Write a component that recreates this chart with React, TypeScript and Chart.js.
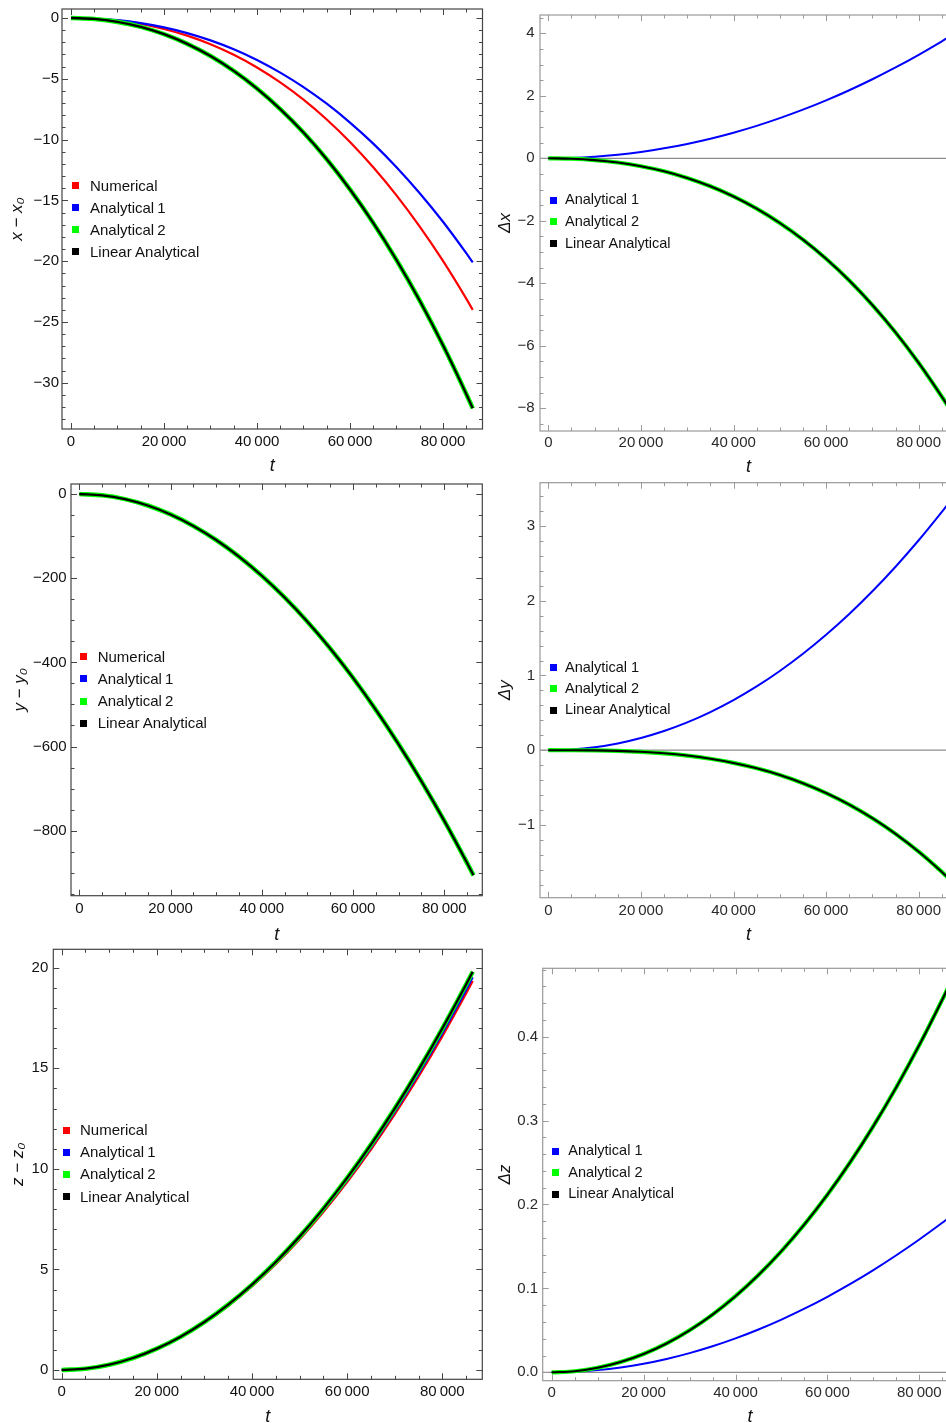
import React, { useEffect, useRef } from 'react';
import { Chart, registerables } from 'chart.js';

Chart.register(...registerables);

// ---------------- data ----------------
const T = [0, 5000, 10000, 15000, 20000, 25000, 30000, 35000, 40000, 45000, 50000, 55000, 60000, 65000, 70000, 75000, 80000, 85000, 86400];

// x - x0
const X_NUMERICAL = [0, -0.05, -0.21, -0.49, -0.9, -1.45, -2.16, -3.03, -4.07, -5.3, -6.72, -8.35, -10.2, -12.28, -14.59, -17.16, -19.98, -23.08, -24.0];
const X_ANALYTICAL1 = [0, -0.04, -0.18, -0.42, -0.77, -1.24, -1.84, -2.57, -3.45, -4.49, -5.68, -7.05, -8.6, -10.33, -12.27, -14.41, -16.76, -19.34, -20.1];
const X_ANALYTICAL2 = [0, -0.08, -0.32, -0.73, -1.33, -2.13, -3.13, -4.35, -5.8, -7.49, -9.42, -11.62, -14.1, -16.85, -19.9, -23.25, -26.92, -30.92, -32.1];
const X_LINEAR = [0, -0.08, -0.32, -0.73, -1.33, -2.13, -3.13, -4.35, -5.8, -7.49, -9.42, -11.62, -14.1, -16.85, -19.9, -23.25, -26.92, -30.92, -32.1];

// Δx
const DX_ANALYTICAL1 = [0, 0.013, 0.051, 0.115, 0.204, 0.319, 0.46, 0.627, 0.82, 1.039, 1.285, 1.556, 1.854, 2.179, 2.53, 2.908, 3.313, 3.744, 3.87];
const DX_ANALYTICAL2 = [0, -0.013, -0.057, -0.135, -0.253, -0.416, -0.628, -0.894, -1.22, -1.61, -2.07, -2.603, -3.215, -3.91, -4.695, -5.573, -6.549, -7.629, -7.95];
const DX_LINEAR = [0, -0.013, -0.057, -0.135, -0.253, -0.416, -0.628, -0.894, -1.22, -1.61, -2.07, -2.603, -3.215, -3.91, -4.695, -5.573, -6.549, -7.629, -7.95];

// y - y0
const Y_NUMERICAL = [0, -3.03, -12.14, -27.3, -48.53, -75.81, -109.16, -148.56, -194.02, -245.53, -303.09, -366.69, -436.35, -512.04, -593.79, -681.58, -775.39, -875.27, -904.29];
const Y_ANALYTICAL1 = [0, -3.02, -12.1, -27.21, -48.37, -75.55, -108.79, -148.05, -193.35, -244.68, -302.03, -365.4, -434.81, -510.22, -591.66, -679.13, -772.58, -872.08, -900.99];
const Y_ANALYTICAL2 = [0, -3.03, -12.14, -27.31, -48.55, -75.85, -109.23, -148.67, -194.19, -245.77, -303.42, -367.13, -436.92, -512.77, -594.7, -682.7, -776.75, -876.9, -906];
const Y_LINEAR = [0, -3.03, -12.14, -27.31, -48.55, -75.85, -109.23, -148.67, -194.19, -245.77, -303.42, -367.13, -436.92, -512.77, -594.7, -682.7, -776.75, -876.9, -906];

// Δy
const DY_ANALYTICAL1 = [0, 0.01, 0.04, 0.091, 0.164, 0.257, 0.372, 0.51, 0.67, 0.853, 1.06, 1.29, 1.544, 1.822, 2.126, 2.455, 2.809, 3.189, 3.3];
const DY_ANALYTICAL2 = [0, -0.0003, -0.0027, -0.0089, -0.0212, -0.0414, -0.0716, -0.1137, -0.1697, -0.2416, -0.3314, -0.4411, -0.5727, -0.7281, -0.9094, -1.1185, -1.3575, -1.6282, -1.71];
const DY_LINEAR = [0, -0.0003, -0.0027, -0.0089, -0.0212, -0.0414, -0.0716, -0.1137, -0.1697, -0.2416, -0.3314, -0.4411, -0.5727, -0.7281, -0.9094, -1.1185, -1.3575, -1.6282, -1.71];

// z - z0
const Z_NUMERICAL = [0, 0.065, 0.26, 0.585, 1.039, 1.624, 2.337, 3.18, 4.153, 5.255, 6.487, 7.847, 9.337, 10.955, 12.704, 14.58, 16.585, 18.72, 19.34];
const Z_ANALYTICAL1 = [0, 0.066, 0.263, 0.591, 1.049, 1.64, 2.36, 3.211, 4.193, 5.306, 6.55, 7.923, 9.427, 11.061, 12.826, 14.72, 16.743, 18.898, 19.524];
const Z_ANALYTICAL2 = [0, 0.066, 0.265, 0.597, 1.061, 1.658, 2.387, 3.249, 4.244, 5.371, 6.631, 8.023, 9.549, 11.206, 12.997, 14.92, 16.975, 19.164, 19.8];
const Z_LINEAR = [0, 0.066, 0.265, 0.597, 1.061, 1.658, 2.387, 3.249, 4.244, 5.371, 6.631, 8.023, 9.549, 11.206, 12.997, 14.92, 16.975, 19.164, 19.8];

// Δz
const DZ_ANALYTICAL1 = [0, 0.0006, 0.0026, 0.0058, 0.0102, 0.0159, 0.0229, 0.031, 0.0404, 0.051, 0.0628, 0.0758, 0.09, 0.1053, 0.1218, 0.1395, 0.1583, 0.1782, 0.184];
const DZ_ANALYTICAL2 = [0, 0.0013, 0.0054, 0.0122, 0.0218, 0.0344, 0.0501, 0.0688, 0.0907, 0.1159, 0.1444, 0.1763, 0.2117, 0.2507, 0.2934, 0.3398, 0.39, 0.4441, 0.46];
const DZ_LINEAR = [0, 0.0013, 0.0054, 0.0122, 0.0218, 0.0344, 0.0501, 0.0688, 0.0907, 0.1159, 0.1444, 0.1763, 0.2117, 0.2507, 0.2934, 0.3398, 0.39, 0.4441, 0.46];

// ticks
const X_TICKS = [0, 20000, 40000, 60000, 80000];
const X_TICK_LABELS = ['0', '20\u2009000', '40\u2009000', '60\u2009000', '80\u2009000'];
const X_MINOR = 5000;

const PX_TICKS = [0, -5, -10, -15, -20, -25, -30];
const PX_TICK_LABELS = ['0', '\u22125', '\u221210', '\u221215', '\u221220', '\u221225', '\u221230'];
const DX_TICKS = [4, 2, 0, -2, -4, -6, -8];
const DX_TICK_LABELS = ['4', '2', '0', '\u22122', '\u22124', '\u22126', '\u22128'];
const PY_TICKS = [0, -200, -400, -600, -800];
const PY_TICK_LABELS = ['0', '\u2212200', '\u2212400', '\u2212600', '\u2212800'];
const DY_TICKS = [3, 2, 1, 0, -1];
const DY_TICK_LABELS = ['3', '2', '1', '0', '\u22121'];
const PZ_TICKS = [20, 15, 10, 5, 0];
const PZ_TICK_LABELS = ['20', '15', '10', '5', '0'];
const DZ_TICKS = [0.4, 0.3, 0.2, 0.1, 0];
const DZ_TICK_LABELS = ['0.4', '0.3', '0.2', '0.1', '0.0'];

const LABEL_NUM_L = 'Numerical';
const LABEL_A1_L = 'Analytical\u20091';
const LABEL_A2_L = 'Analytical\u20092';
const LABEL_A1_R = 'Analytical 1';
const LABEL_A2_R = 'Analytical 2';
const LABEL_LIN = 'Linear Analytical';

// ---------------- styles ----------------
const FONT = "'Liberation Sans', Arial, Helvetica, sans-serif";
const RED = '#ff0000';
const BLUE = '#0000ff';
const GREEN = '#00ff00';
const BLACK = '#000000';

type Series = { label: string; color: string; values: number[]; width: number; order: number };
type Spec = {
  key: string;
  left: number; top: number; width: number; height: number;
  frame: { l: number; t: number; r: number; b: number };
  xRange: [number, number]; yRange: [number, number];
  yTicks: number[]; yLabels: string[]; yMinor: number;
  yTitle: string;
  series: Series[];
  legend: { markerX: number; textX: number; y0: number; dy: number; size: number };
  frameColor: string; textColor: string;
  xLabelPad: number; xTitlePad: number; yLabelPad: number; yTitlePad: number;
  zeroLine: boolean;
};

const leftSeries = (num: number[], a1: number[], a2: number[], lin: number[]): Series[] => [
  { label: LABEL_NUM_L, color: RED, values: num, width: 2.2, order: 4 },
  { label: LABEL_A1_L, color: BLUE, values: a1, width: 2.2, order: 3 },
  { label: LABEL_A2_L, color: GREEN, values: a2, width: 4.6, order: 2 },
  { label: LABEL_LIN, color: BLACK, values: lin, width: 2.3, order: 1 },
];
const rightSeries = (a1: number[], a2: number[], lin: number[]): Series[] => [
  { label: LABEL_A1_R, color: BLUE, values: a1, width: 2, order: 3 },
  { label: LABEL_A2_R, color: GREEN, values: a2, width: 4.2, order: 2 },
  { label: LABEL_LIN, color: BLACK, values: lin, width: 2.1, order: 1 },
];

const LEFT_FRAME = '#444444';
const RIGHT_FRAME = '#9a9a9a';

const SPECS: Spec[] = [
  {
    key: 'px', left: 0, top: 0, width: 490, height: 480,
    frame: { l: 62, t: 9, r: 482.5, b: 429 },
    xRange: [-1935, 88495], yRange: [-33.8, 0.74],
    yTicks: PX_TICKS, yLabels: PX_TICK_LABELS, yMinor: 1,
    yTitle: 'x \u2212 x\u2080',
    series: leftSeries(X_NUMERICAL, X_ANALYTICAL1, X_ANALYTICAL2, X_LINEAR),
    legend: { markerX: 72, textX: 90, y0: 185.7, dy: 22, size: 15 },
    frameColor: LEFT_FRAME, textColor: '#111',
    xLabelPad: 4, xTitlePad: 3.2, yLabelPad: 3, yTitlePad: 6.8, zeroLine: false,
  },
  {
    key: 'dx', left: 480, top: 0, width: 490, height: 480,
    frame: { l: 540, t: 15, r: 957, b: 431 },
    xRange: [-1793, 88272], yRange: [-8.726, 4.586],
    yTicks: DX_TICKS, yLabels: DX_TICK_LABELS, yMinor: 0.5,
    yTitle: '\u0394x',
    series: rightSeries(DX_ANALYTICAL1, DX_ANALYTICAL2, DX_LINEAR),
    legend: { markerX: 550, textX: 565, y0: 200, dy: 21.7, size: 14.5 },
    frameColor: RIGHT_FRAME, textColor: '#2a2a2a',
    xLabelPad: 2.7, xTitlePad: 2.5, yLabelPad: 5.5, yTitlePad: 14.8, zeroLine: true,
  },
  {
    key: 'py', left: 0, top: 480, width: 490, height: 470,
    frame: { l: 71, t: 484, r: 482.3, b: 895.7 },
    xRange: [-1819, 88329], yRange: [-954.4, 23.8],
    yTicks: PY_TICKS, yLabels: PY_TICK_LABELS, yMinor: 50,
    yTitle: 'y \u2212 y\u2080',
    series: leftSeries(Y_NUMERICAL, Y_ANALYTICAL1, Y_ANALYTICAL2, Y_LINEAR),
    legend: { markerX: 80, textX: 97.7, y0: 656.7, dy: 22.2, size: 15 },
    frameColor: LEFT_FRAME, textColor: '#111',
    xLabelPad: 4.6, xTitlePad: 4.2, yLabelPad: 4.3, yTitlePad: 9.8, zeroLine: false,
  },
  {
    key: 'dy', left: 480, top: 480, width: 490, height: 470,
    frame: { l: 540, t: 482.7, r: 957, b: 897.7 },
    xRange: [-1793, 88272], yRange: [-1.973, 3.579],
    yTicks: DY_TICKS, yLabels: DY_TICK_LABELS, yMinor: 0.2,
    yTitle: '\u0394y',
    series: rightSeries(DY_ANALYTICAL1, DY_ANALYTICAL2, DY_LINEAR),
    legend: { markerX: 550, textX: 565, y0: 667.7, dy: 21.2, size: 14.5 },
    frameColor: RIGHT_FRAME, textColor: '#2a2a2a',
    xLabelPad: 4.3, xTitlePad: 4.2, yLabelPad: 5, yTitlePad: 14.8, zeroLine: true,
  },
  {
    key: 'pz', left: 0, top: 940, width: 490, height: 500,
    frame: { l: 53.3, t: 949.3, r: 482.3, b: 1379.3 },
    xRange: [-1766, 88408], yRange: [-0.462, 20.915],
    yTicks: PZ_TICKS, yLabels: PZ_TICK_LABELS, yMinor: 1,
    yTitle: 'z \u2212 z\u2080',
    series: leftSeries(Z_NUMERICAL, Z_ANALYTICAL1, Z_ANALYTICAL2, Z_LINEAR),
    legend: { markerX: 62.7, textX: 80, y0: 1130, dy: 22.2, size: 15 },
    frameColor: LEFT_FRAME, textColor: '#111',
    xLabelPad: 3.4, xTitlePad: 12.5, yLabelPad: 5, yTitlePad: 7.8, zeroLine: false,
  },
  {
    key: 'dz', left: 480, top: 940, width: 490, height: 500,
    frame: { l: 542.7, t: 968.3, r: 957.4, b: 1380.7 },
    xRange: [-1959, 88292], yRange: [-0.01, 0.4815],
    yTicks: DZ_TICKS, yLabels: DZ_TICK_LABELS, yMinor: 0.02,
    yTitle: '\u0394z',
    series: rightSeries(DZ_ANALYTICAL1, DZ_ANALYTICAL2, DZ_LINEAR),
    legend: { markerX: 551.7, textX: 568.3, y0: 1151, dy: 21.5, size: 14.5 },
    frameColor: RIGHT_FRAME, textColor: '#2a2a2a',
    xLabelPad: 3.6, xTitlePad: 12.5, yLabelPad: 4.5, yTitlePad: 14.8, zeroLine: true,
  },
];

const MAJOR_LEN = 6;
const MINOR_LEN = 3.5;

function makeFramePlugin(spec: Spec) {
  return {
    id: 'mmaFrame_' + spec.key,
    beforeDatasetsDraw(chart: any) {
      if (!spec.zeroLine) return;
      const { ctx, chartArea: a } = chart;
      const py = chart.scales.y.getPixelForValue(0);
      ctx.save();
      ctx.strokeStyle = '#8c8c8c';
      ctx.lineWidth = 1.2;
      ctx.beginPath();
      ctx.moveTo(a.left, py);
      ctx.lineTo(a.right, py);
      ctx.stroke();
      ctx.restore();
    },
    afterDraw(chart: any) {
      const { ctx, chartArea: a } = chart;
      const xs = chart.scales.x;
      const ys = chart.scales.y;
      ctx.save();
      ctx.strokeStyle = spec.frameColor;
      ctx.lineWidth = 1;
      ctx.beginPath();
      const kx0 = Math.ceil(xs.min / X_MINOR);
      const kx1 = Math.floor(xs.max / X_MINOR);
      for (let k = kx0; k <= kx1; k++) {
        const v = k * X_MINOR;
        const px = Math.round(xs.getPixelForValue(v)) + 0.5;
        const len = X_TICKS.includes(v) ? MAJOR_LEN : MINOR_LEN;
        ctx.moveTo(px, a.bottom);
        ctx.lineTo(px, a.bottom - len);
        ctx.moveTo(px, a.top);
        ctx.lineTo(px, a.top + len);
      }
      const st = spec.yMinor;
      const ky0 = Math.ceil(ys.min / st - 1e-9);
      const ky1 = Math.floor(ys.max / st + 1e-9);
      for (let k = ky0; k <= ky1; k++) {
        const v = k * st;
        const py = Math.round(ys.getPixelForValue(v)) + 0.5;
        const major = spec.yTicks.some((t) => Math.abs(t - v) < st * 1e-3);
        const len = major ? MAJOR_LEN : MINOR_LEN;
        ctx.moveTo(a.left, py);
        ctx.lineTo(a.left + len, py);
        ctx.moveTo(a.right, py);
        ctx.lineTo(a.right - len, py);
      }
      ctx.stroke();
      ctx.lineWidth = 1.2;
      ctx.strokeRect(a.left, a.top, a.right - a.left, a.bottom - a.top);
      ctx.restore();
    },
  };
}

function Panel({ spec }: { spec: Spec }) {
  const ref = useRef<HTMLCanvasElement | null>(null);
  useEffect(() => {
    const canvas = ref.current;
    if (!canvas) return;
    const yAxisW = spec.frame.l - spec.left;
    const padTop = spec.frame.t - spec.top;
    const padRight = spec.left + spec.width - spec.frame.r;
    const xAxisH = spec.top + spec.height - spec.frame.b;
    const chart = new Chart(canvas, {
      type: 'line',
      data: {
        datasets: spec.series.map((s) => ({
          label: s.label,
          data: T.map((t, i) => ({ x: t, y: s.values[i] })),
          borderColor: s.color,
          backgroundColor: s.color,
          borderWidth: s.width,
          pointRadius: 0,
          fill: false,
          cubicInterpolationMode: 'monotone' as const,
          order: s.order,
        })),
      },
      options: {
        animation: false,
        responsive: false,
        events: [],
        layout: { autoPadding: false, padding: { top: padTop, right: padRight, left: 0, bottom: 0 } },
        plugins: { legend: { display: false }, tooltip: { enabled: false } },
        scales: {
          x: {
            type: 'linear',
            min: spec.xRange[0],
            max: spec.xRange[1],
            grid: { display: false, drawTicks: false },
            border: { display: false },
            afterBuildTicks: (s: any) => {
              s.ticks = X_TICKS.map((v) => ({ value: v }));
            },
            afterFit: (s: any) => {
              s.height = xAxisH;
              s.paddingLeft = 0;
              s.paddingRight = 0;
            },
            ticks: {
              autoSkip: false,
              maxRotation: 0,
              padding: spec.xLabelPad,
              color: spec.textColor,
              font: { family: FONT, size: 15 },
              callback: (v: any) => X_TICK_LABELS[X_TICKS.indexOf(Number(v))] ?? '',
            },
            title: {
              display: true,
              text: 't',
              color: '#111',
              font: { family: FONT, size: 18, style: 'italic' },
              padding: { top: 0, bottom: spec.xTitlePad },
            },
          },
          y: {
            type: 'linear',
            min: spec.yRange[0],
            max: spec.yRange[1],
            grid: { display: false, drawTicks: false },
            border: { display: false },
            afterBuildTicks: (s: any) => {
              s.ticks = spec.yTicks.map((v) => ({ value: v }));
            },
            afterFit: (s: any) => {
              s.width = yAxisW;
              s.paddingTop = 0;
              s.paddingBottom = 0;
            },
            ticks: {
              autoSkip: false,
              padding: spec.yLabelPad,
              color: spec.textColor,
              font: { family: FONT, size: 15 },
              callback: (v: any) => {
                const i = spec.yTicks.findIndex((t) => Math.abs(t - Number(v)) < 1e-9);
                return i >= 0 ? spec.yLabels[i] : '';
              },
            },
            title: {
              display: true,
              text: spec.yTitle,
              color: '#111',
              font: { family: FONT, size: 17, style: 'italic' },
              padding: { top: spec.yTitlePad, bottom: 0 },
            },
          },
        },
      } as any,
      plugins: [makeFramePlugin(spec)],
    });
    return () => chart.destroy();
  }, [spec]);

  const lg = spec.legend;
  return (
    <>
      <canvas
        ref={ref}
        width={spec.width}
        height={spec.height}
        style={{ position: 'absolute', left: spec.left, top: spec.top, width: spec.width, height: spec.height }}
      />
      {spec.series.map((s, i) => {
        const cy = lg.y0 + i * lg.dy;
        const lh = lg.size * 1.2;
        return (
          <React.Fragment key={s.label}>
            <div
              style={{
                position: 'absolute',
                left: lg.markerX,
                top: cy - 3.5,
                width: 7,
                height: 7,
                background: s.color,
              }}
            />
            <div
              style={{
                position: 'absolute',
                left: lg.textX,
                top: cy - lh / 2,
                height: lh,
                lineHeight: `${lh}px`,
                fontFamily: FONT,
                fontSize: lg.size,
                color: '#111',
                whiteSpace: 'nowrap',
              }}
            >
              {s.label}
            </div>
          </React.Fragment>
        );
      })}
    </>
  );
}

export default function App() {
  return (
    <div
      style={{
        position: 'absolute',
        left: 0,
        top: 0,
        width: 946,
        height: 1423,
        overflow: 'hidden',
        background: '#ffffff',
      }}
    >
      {SPECS.map((s) => (
        <Panel key={s.key} spec={s} />
      ))}
    </div>
  );
}
